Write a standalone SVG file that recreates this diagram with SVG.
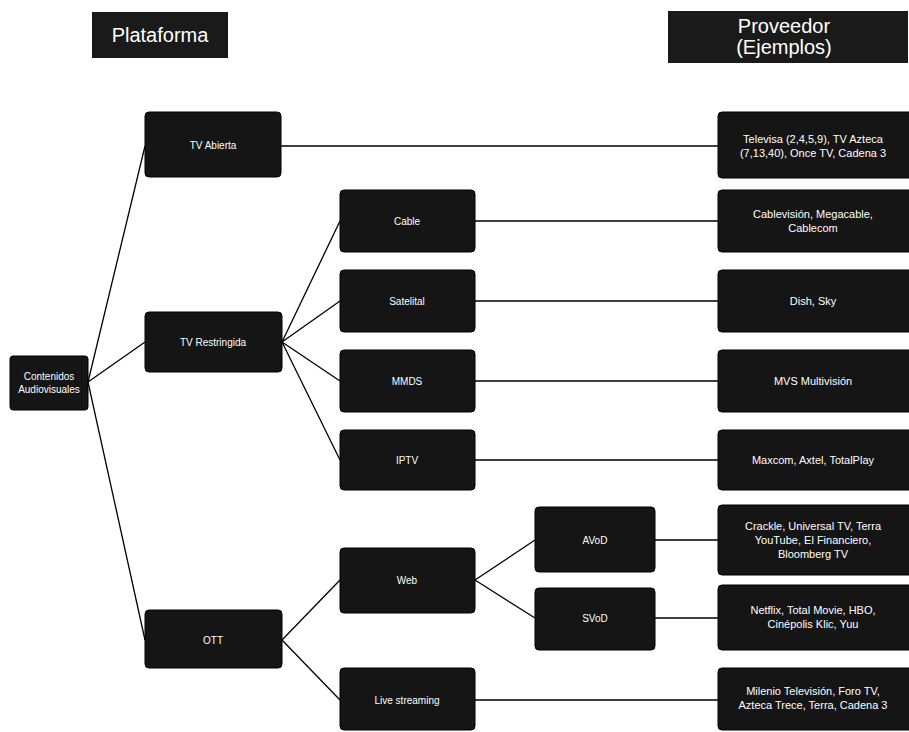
<svg xmlns="http://www.w3.org/2000/svg" width="909" height="732" viewBox="0 0 909 732">
<style>
.box{fill:#151515;stroke:#000;stroke-width:1}
.hdr{fill:#1a1a1a}
.t{font-family:"Liberation Sans",Arial,sans-serif;font-size:10px;fill:#fff;text-anchor:middle}
.p{font-family:"Liberation Sans",Arial,sans-serif;font-size:11px;fill:#fff;text-anchor:middle}
.h{font-family:"Liberation Sans",Arial,sans-serif;font-size:20px;fill:#fff;text-anchor:middle}
.ln{stroke:#000;stroke-width:1.3;fill:none}
</style>
<rect width="909" height="732" fill="#fff"/>
<g id="hdr-plataforma"><rect class="hdr" x="92" y="12" width="136" height="46"/><text class="h" x="160" y="42">Plataforma</text></g>
<g id="hdr-proveedor"><rect class="hdr" x="668" y="11" width="240" height="52"/><text class="h" x="784" y="33">Proveedor</text><text class="h" x="784" y="54">(Ejemplos)</text></g>
<g id="connectors">
<path class="ln" d="M88 382 L145 146 M88 382 L145 342 M88 382 L145 640"/>
<path class="ln" d="M282 342 L340 221 M282 342 L340 301 M282 342 L340 381 M282 342 L340 460"/>
<path class="ln" d="M282 640 L340 580 M282 640 L340 700"/>
<path class="ln" d="M475 580 L535 540 M475 580 L535 618"/>
<path class="ln" d="M281 146 H718 M475 221 H718 M475 301 H718 M475 381 H718 M475 460 H718 M655 540 H718 M655 618 H718 M475 700 H718"/>
</g>
<g id="root"><rect class="box" x="10" y="356" width="78" height="54" rx="3"/><text class="t" x="49" y="380">Contenidos</text><text class="t" x="49" y="393">Audiovisuales</text></g>
<g id="tv-abierta"><rect class="box" x="145" y="112" width="136" height="65" rx="4"/><text class="t" x="213" y="149">TV Abierta</text></g>
<g id="tv-restringida"><rect class="box" x="145" y="312" width="137" height="60" rx="4"/><text class="t" x="213" y="346">TV Restringida</text></g>
<g id="ott"><rect class="box" x="145" y="610" width="137" height="58" rx="4"/><text class="t" x="213" y="644">OTT</text></g>
<g id="cable"><rect class="box" x="340" y="190" width="135" height="62" rx="4"/><text class="t" x="407" y="225">Cable</text></g>
<g id="satelital"><rect class="box" x="340" y="270" width="135" height="62" rx="4"/><text class="t" x="407" y="305">Satelital</text></g>
<g id="mmds"><rect class="box" x="340" y="350" width="135" height="62" rx="4"/><text class="t" x="407" y="385">MMDS</text></g>
<g id="iptv"><rect class="box" x="340" y="430" width="135" height="60" rx="4"/><text class="t" x="407" y="464">IPTV</text></g>
<g id="web"><rect class="box" x="340" y="548" width="135" height="65" rx="4"/><text class="t" x="407" y="584">Web</text></g>
<g id="live"><rect class="box" x="340" y="668" width="135" height="62" rx="4"/><text class="t" x="407" y="704">Live streaming</text></g>
<g id="avod"><rect class="box" x="535" y="507" width="120" height="65" rx="4"/><text class="t" x="595" y="544">AVoD</text></g>
<g id="svod"><rect class="box" x="535" y="588" width="120" height="62" rx="4"/><text class="t" x="595" y="622">SVoD</text></g>
<g id="p-abierta"><rect class="box" x="718" y="112" width="200" height="66" rx="4"/><text class="p" x="813" y="143">Televisa (2,4,5,9), TV Azteca</text><text class="p" x="813" y="157">(7,13,40), Once TV, Cadena 3</text></g>
<g id="p-cable"><rect class="box" x="718" y="190" width="200" height="62" rx="4"/><text class="p" x="813" y="218">Cablevisión, Megacable,</text><text class="p" x="813" y="232">Cablecom</text></g>
<g id="p-sat"><rect class="box" x="718" y="270" width="200" height="62" rx="4"/><text class="p" x="813" y="305">Dish, Sky</text></g>
<g id="p-mmds"><rect class="box" x="718" y="350" width="200" height="62" rx="4"/><text class="p" x="813" y="385">MVS Multivisión</text></g>
<g id="p-iptv"><rect class="box" x="718" y="430" width="200" height="60" rx="4"/><text class="p" x="813" y="464">Maxcom, Axtel, TotalPlay</text></g>
<g id="p-avod"><rect class="box" x="718" y="505" width="200" height="70" rx="4"/><text class="p" x="813" y="530">Crackle, Universal TV, Terra</text><text class="p" x="813" y="544">YouTube, El Financiero,</text><text class="p" x="813" y="558">Bloomberg TV</text></g>
<g id="p-svod"><rect class="box" x="718" y="585" width="200" height="65" rx="4"/><text class="p" x="813" y="614">Netflix, Total Movie, HBO,</text><text class="p" x="813" y="628">Cinépolis Klic, Yuu</text></g>
<g id="p-live"><rect class="box" x="718" y="668" width="200" height="62" rx="4"/><text class="p" x="813" y="695">Milenio Televisión, Foro TV,</text><text class="p" x="813" y="709">Azteca Trece, Terra, Cadena 3</text></g>
</svg>
